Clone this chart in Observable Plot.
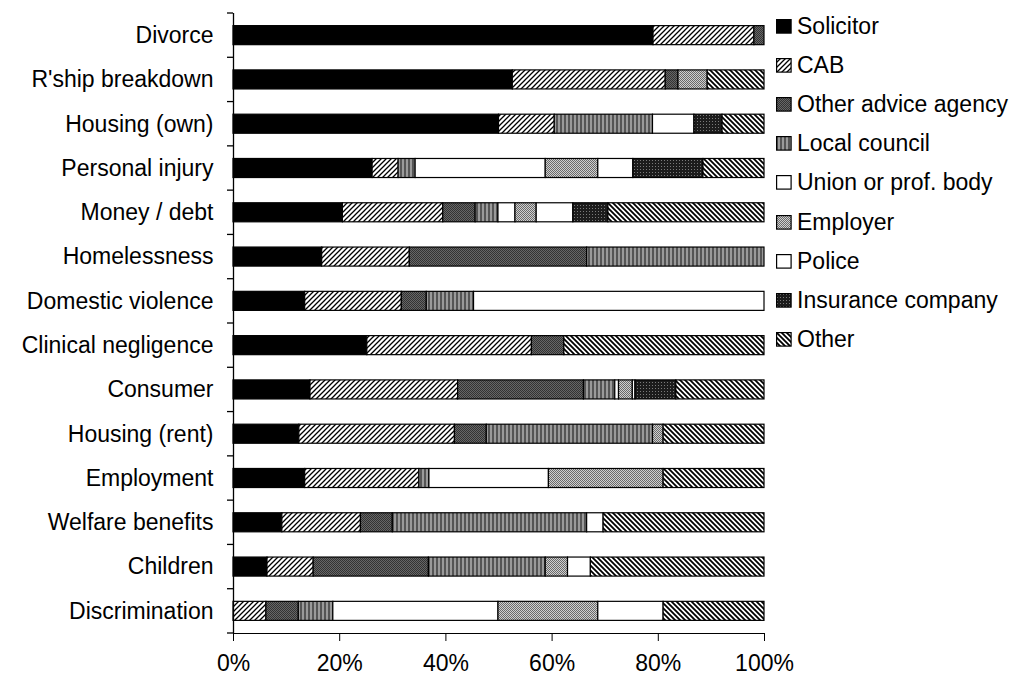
<!DOCTYPE html>
<html><head><meta charset="utf-8">
<script src="https://cdn.jsdelivr.net/npm/d3@7"></script>
<script src="https://cdn.jsdelivr.net/npm/@observablehq/plot@0.6"></script>
<style>
html,body{margin:0;padding:0;background:#fff;}
#wrap{position:relative;width:1021px;height:677px;font-family:"Liberation Sans",Arial,sans-serif;}
#legend{position:absolute;left:776px;top:7px;font-size:23px;color:#000;}
.row{display:flex;align-items:center;height:39.1px;white-space:nowrap;}
.row svg{margin-right:5px;flex:none;}
</style></head><body>
<svg width="0" height="0" style="position:absolute">
<defs>
  <pattern id="p-sol" patternUnits="userSpaceOnUse" width="4" height="4"><rect width="4" height="4" fill="#000"/></pattern>
  <pattern id="p-cab" patternUnits="userSpaceOnUse" width="5" height="5">
    <rect width="5" height="5" fill="#fff"/>
    <path d="M-1,1 l2,-2 M0,5 l5,-5 M4,6 l2,-2" stroke="#000" stroke-width="1.3"/>
  </pattern>
  <pattern id="p-oaa" patternUnits="userSpaceOnUse" width="2" height="2">
    <rect width="2" height="2" fill="#666"/>
    <rect width="1" height="1" fill="#333"/><rect x="1" y="1" width="1" height="1" fill="#333"/>
  </pattern>
  <pattern id="p-lc" patternUnits="userSpaceOnUse" width="4" height="4">
    <rect width="4" height="4" fill="#9a9a9a"/>
    <rect width="2" height="4" fill="#555"/>
  </pattern>
  <pattern id="p-white" patternUnits="userSpaceOnUse" width="4" height="4"><rect width="4" height="4" fill="#fff"/></pattern>
  <pattern id="p-emp" patternUnits="userSpaceOnUse" width="2" height="2">
    <rect width="2" height="2" fill="#cfcfcf"/>
    <rect width="1" height="1" fill="#6a6a6a"/><rect x="1" y="1" width="1" height="1" fill="#6a6a6a"/>
  </pattern>
  <pattern id="p-ins" patternUnits="userSpaceOnUse" width="3" height="3">
    <rect width="3" height="3" fill="#1c1c1c"/>
    <rect x="1" y="1" width="1" height="1" fill="#7a7a7a"/>
  </pattern>
  <pattern id="p-oth" patternUnits="userSpaceOnUse" width="5" height="5">
    <rect width="5" height="5" fill="#fff"/>
    <path d="M-1,4 l2,2 M0,0 l5,5 M4,-1 l2,2" stroke="#000" stroke-width="1.8"/>
  </pattern>
</defs>
</svg>
<div id="wrap"><div id="chart"></div><div id="legend"></div></div>
<script>
const categories = ["Divorce", "R'ship breakdown", "Housing (own)", "Personal injury", "Money / debt", "Homelessness", "Domestic violence", "Clinical negligence", "Consumer", "Housing (rent)", "Employment", "Welfare benefits", "Children", "Discrimination"];
const sources = ["Solicitor", "CAB", "Other advice agency", "Local council", "Union or prof. body", "Employer", "Police", "Insurance company", "Other"];

const solicitor    = [79.1, 52.6, 50.0, 26.2, 20.6, 16.7, 13.5, 25.2, 14.5, 12.4, 13.5, 9.2, 6.4, 0];
const cab          = [19.0, 28.8, 10.5, 4.9, 18.9, 16.5, 18.2, 31.0, 27.8, 29.3, 21.5, 14.8, 8.7, 6.2];
const otherAdvice  = [1.9, 2.4, 0, 0, 6.1, 33.4, 4.7, 6.1, 23.7, 6.0, 0, 6.0, 21.7, 6.1];
const localCouncil = [0, 0, 18.5, 3.2, 4.3, 33.4, 8.9, 0, 5.9, 31.3, 1.9, 36.6, 22.0, 6.5];
const unionBody    = [0, 0, 7.8, 24.5, 3.2, 0, 0, 0, 0.7, 0, 22.5, 0, 0, 31.1];
const employer     = [0, 5.5, 0, 9.9, 4.0, 0, 0, 0, 2.6, 2.0, 21.6, 0, 4.2, 18.8];
const police       = [0, 0, 0, 6.6, 6.9, 0, 54.7, 0, 0.5, 0, 0, 3.1, 4.3, 12.3];
const insurance    = [0, 0, 5.3, 13.2, 6.6, 0, 0, 0, 7.7, 0, 0, 0, 0, 0];
const other        = [0, 10.7, 7.9, 11.5, 29.4, 0, 0, 37.7, 16.6, 19.0, 19.0, 30.3, 32.7, 19.0];

const xTicks = [0, 20, 40, 60, 80, 100];

const series = [solicitor, cab, otherAdvice, localCouncil, unionBody, employer, police, insurance, other];
const patterns = ["url(#p-sol)", "url(#p-cab)", "url(#p-oaa)", "url(#p-lc)", "url(#p-white)", "url(#p-emp)", "url(#p-white)", "url(#p-ins)", "url(#p-oth)"];

const rows = [];
categories.forEach((c, i) => {
  sources.forEach((s, j) => {
    const v = series[j][i];
    if (v > 0) rows.push({category: c, source: s, value: v});
  });
});

const chart = Plot.plot({
  width: 1021,
  height: 677,
  marginLeft: 233,
  marginRight: 257,
  marginTop: 13,
  marginBottom: 44,
  style: {fontFamily: '"Liberation Sans", Arial, sans-serif', fontSize: "23px", color: "#000", background: "#fff", overflow: "visible"},
  x: {domain: [0, 100], ticks: xTicks, tickFormat: d => d + "%", tickSize: 8, tickPadding: 13, label: null, line: true},
  y: {domain: categories, paddingInner: 0.57, paddingOuter: 0.285, round: false, tickSize: 0, tickPadding: 20, label: null},
  color: {domain: sources, range: patterns},
  marks: [
    Plot.barX(rows, Plot.stackX({y: "category", x: "value", fill: "source", order: null, stroke: "#000", strokeWidth: 1.2})),
    Plot.ruleX([0], {stroke: "#000", strokeWidth: 1.3})
  ]
});

// category boundary ticks on the y axis (Excel-style), from the plot's y scale
const ys = chart.scale("y");
const step = ys.step ?? ((ys.range[1] - ys.range[0]) / ys.domain.length);
const y0 = ys.range[0];
const g = d3.select(chart).append("g").attr("stroke", "#000").attr("stroke-width", 1.3);
d3.range(categories.length + 1).forEach(i => {
  g.append("line").attr("x1", 233 - 6).attr("x2", 233).attr("y1", y0 + i * step).attr("y2", y0 + i * step);
});

document.getElementById("chart").appendChild(chart);

const legend = document.getElementById("legend");
sources.forEach((s, j) => {
  const row = document.createElement("div");
  row.className = "row";
  row.innerHTML = `<svg width="16" height="15"><rect x="0.6" y="0.6" width="14.5" height="13.5" fill="${patterns[j]}" stroke="#000" stroke-width="1.2"/></svg><span>${s}</span>`;
  legend.appendChild(row);
});
</script>
</body></html>
